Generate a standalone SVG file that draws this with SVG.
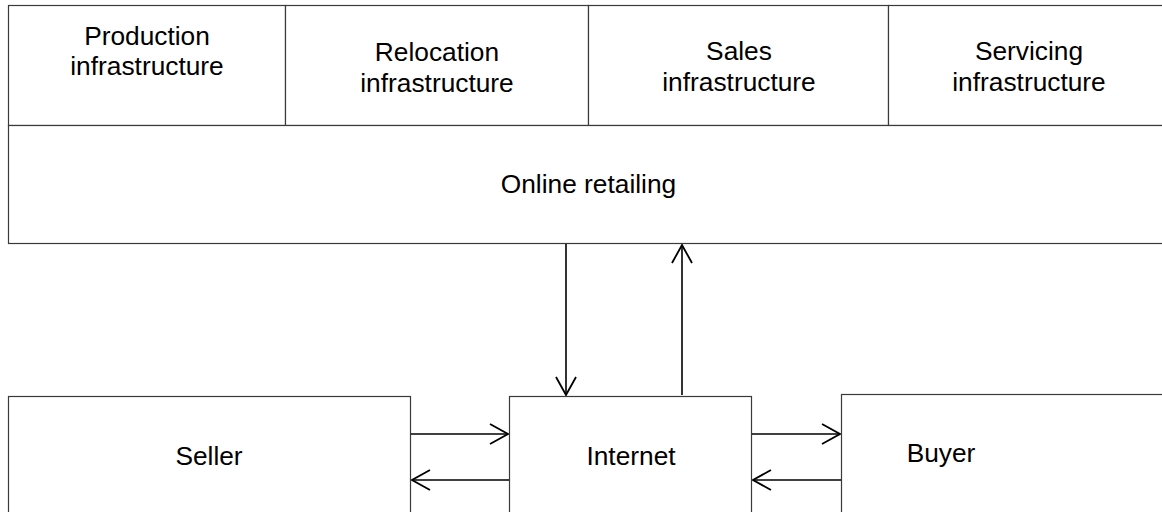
<svg xmlns="http://www.w3.org/2000/svg" width="1162" height="512" viewBox="0 0 1162 512">
<style>
.box{fill:#fff;stroke:#3a3a3a;stroke-width:1.2}
.t{font-family:"Liberation Sans",Arial,sans-serif;font-size:26.3px;fill:#000;text-anchor:middle}
.c{stroke:#000;stroke-width:1.6;fill:none}
</style>
<defs>
<marker id="ah" viewBox="0 0 20 22" refX="19" refY="11" markerWidth="20" markerHeight="22" markerUnits="userSpaceOnUse" orient="auto">
<path d="M1,1 L19,11 L1,21" fill="none" stroke="#000" stroke-width="1.8"/>
</marker>
</defs>
<rect width="1162" height="512" fill="#fff"/>
<g id="production">
<rect class="box" x="8.5" y="5.5" width="277" height="120"/>
<text class="t" x="147" y="45">Production</text>
<text class="t" x="147" y="75">infrastructure</text>
</g>
<g id="relocation">
<rect class="box" x="285.5" y="5.5" width="303" height="120"/>
<text class="t" x="437" y="61">Relocation</text>
<text class="t" x="437" y="92">infrastructure</text>
</g>
<g id="sales">
<rect class="box" x="588.5" y="5.5" width="300" height="120"/>
<text class="t" x="739" y="60">Sales</text>
<text class="t" x="739" y="91">infrastructure</text>
</g>
<g id="servicing">
<rect class="box" x="888.5" y="5.5" width="290" height="120"/>
<text class="t" x="1029" y="60">Servicing</text>
<text class="t" x="1029" y="91">infrastructure</text>
</g>
<g id="online">
<rect class="box" x="8.5" y="125.5" width="1170" height="118"/>
<text class="t" x="588.5" y="193">Online retailing</text>
</g>
<g id="seller">
<rect class="box" x="8.5" y="396.5" width="402" height="130"/>
<text class="t" x="209" y="465">Seller</text>
</g>
<g id="internet">
<rect class="box" x="509.5" y="396.5" width="242" height="130"/>
<text class="t" x="631" y="465">Internet</text>
</g>
<g id="buyer">
<rect class="box" x="841.5" y="394.5" width="340" height="130"/>
<text class="t" x="941" y="462">Buyer</text>
</g>
<g id="connectors">
<line class="c" x1="566" y1="244" x2="566" y2="395" marker-end="url(#ah)"/>
<line class="c" x1="682" y1="395" x2="682" y2="245" marker-end="url(#ah)"/>
<line class="c" x1="411" y1="434" x2="508" y2="434" marker-end="url(#ah)"/>
<line class="c" x1="509" y1="480" x2="412" y2="480" marker-end="url(#ah)"/>
<line class="c" x1="752" y1="434" x2="840" y2="434" marker-end="url(#ah)"/>
<line class="c" x1="841" y1="480" x2="753" y2="480" marker-end="url(#ah)"/>
</g>
</svg>
